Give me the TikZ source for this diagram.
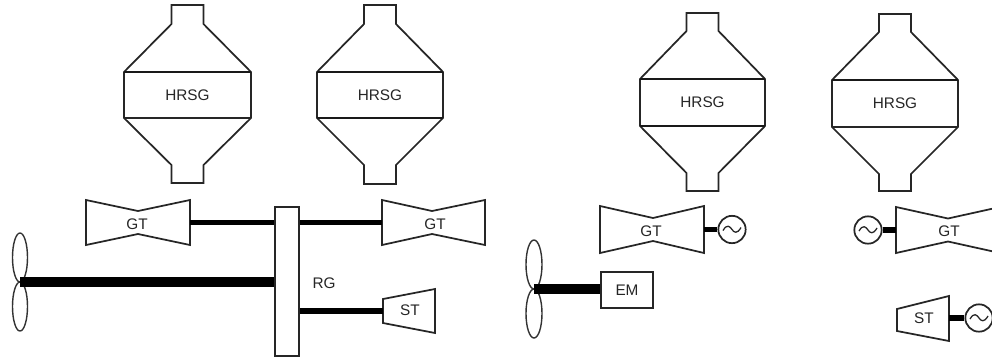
\documentclass[tikz,border=0pt]{standalone}
\usepackage{fontspec}
\setmainfont{Liberation Sans}
\tikzset{
  px/.style={x=0.75pt,y=-0.75pt},
  outline/.style={draw=black!85,line width=1.3pt,line join=miter},
  thick rule/.style={draw=black!90,line width=2pt},
  lbl/.style={inner sep=0pt,font=\fontsize{11.5}{13}\selectfont,text=black!85},
  shaft/.style={draw=black,line width=4pt},
  bigshaft/.style={draw=black,line width=7.8pt},
  blade/.style={draw=black!80,line width=1.05pt},
}
\newcommand{\hrsg}[7]{% name, xl, xr of rect, ytop of neck, y rect top, y rect bottom, y neck bottom
  \pgfmathsetmacro{\xm}{(#2+#3)/2}
  \pgfmathsetmacro{\nl}{\xm-16}
  \pgfmathsetmacro{\nr}{\xm+16}
  \pgfmathsetmacro{\ya}{#5-48}
  \pgfmathsetmacro{\yb}{#6+47}
  \draw[outline] (\nl,#4) -- (\nr,#4) -- (\nr,\ya) -- (#3,#5) -- (#3,#6) -- (\nr,\yb) -- (\nr,#7)
     -- (\nl,#7) -- (\nl,\yb) -- (#2,#6) -- (#2,#5) -- (\nl,\ya) -- cycle;
  \draw[thick rule] (#2,#5) -- (#3,#5);
  \draw[outline] (#2,#6) -- (#3,#6);
  \pgfmathsetmacro{\ym}{(#5+#6)/2}
  \node[lbl] (#1) at (\xm,\ym) {HRSG};
}
\newcommand{\gasturbine}[8]{% name, xl, xm, xr, ytop, ybottom, inset, label dx
  \pgfmathsetmacro{\ymid}{(#5+#6)/2}
  \pgfmathsetmacro{\wt}{#5+#7}
  \pgfmathsetmacro{\wb}{#6-#7}
  \pgfmathsetmacro{\lx}{#3+#8}
  \pgfmathsetmacro{\ly}{\ymid+1.5}
  \draw[outline] (#2,#5) -- (#3,\wt) -- (#4,#5) -- (#4,#6) -- (#3,\wb) -- (#2,#6) -- cycle;
  \coordinate (#1l) at (#2,\ymid);
  \coordinate (#1r) at (#4,\ymid);
  \node[lbl] (#1) at (\lx,\ly) {GT};
}
\newcommand{\generator}[3]{% name, x, y
  \node[outline,circle,minimum size=20.5pt,inner sep=0pt,fill=white] (#1) at (#2,#3) {};
  \draw[outline,line width=0.95pt] (#2-9,#3+1) .. controls (#2-5,#3-6) and (#2-2,#3-3) .. (#2,#3)
     .. controls (#2+2,#3+3) and (#2+5,#3+5) .. (#2+9,#3-2);
}
\newcommand{\propeller}[4]{% name, x, yhub, rx
  \coordinate (#1) at (#2,#3);
  \draw[blade] (#2,#3-24.5) ellipse [x radius=#4,y radius=24.5];
  \draw[blade] (#2,#3+24.5) ellipse [x radius=#4,y radius=24.5];
}
\begin{document}
\begin{tikzpicture}[px]
\useasboundingbox (0,0) rectangle (992,358);
\clip (0,0) rectangle (992,358);
\fill[white] (0,0) rectangle (992,358);

\hrsg{h1}{124}{251}{5}{72}{118}{183}
\hrsg{h2}{317}{443}{5}{72}{118}{184}
\hrsg{h3}{640}{765}{13}{79}{126}{191}
\hrsg{h4}{832}{958}{14}{80}{127}{191}
\draw[thick rule] (317,118) -- (443,118);
\draw[thick rule] (640,126) -- (765,126);

% left plant
\node[outline,minimum width=18pt,minimum height=111.5pt,inner sep=0pt,fill=white] (rg) at (287,281.5) {};
\gasturbine{gta}{86}{138}{190}{200}{245}{11}{-1}
\gasturbine{gtb}{382}{432}{485}{200}{245}{11}{3}
\draw[outline] (383,299) -- (435,289) -- (435,333) -- (383,323) -- cycle;
\coordinate (sta) at (383,311);
\node[lbl] (stal) at (410,310) {ST};
\node[lbl] (rgl) at (324,283) {RG};
\propeller{pa}{20}{282}{7.5}
\draw[shaft] (gtar) -- (gtar -| rg.west);
\draw[shaft] (gtbl) -- (gtbl -| rg.east);
\draw[shaft] (sta) -- (sta -| rg.east);
\draw[bigshaft] (pa) -- (pa -| rg.west);

% right plant
\gasturbine{gtc}{600}{653}{704}{206}{253}{12}{-2}
\gasturbine{gtd}{896}{948}{1000}{207}{253}{11.5}{1}
\generator{ga}{732}{229.5}
\generator{gb}{868}{230}
\draw[shaft] (gtcr) -- (ga.west);
\draw[shaft] (gtdl) -- (gb.east);
\draw[outline] (897,309) -- (949,296) -- (949,341) -- (897,331) -- cycle;
\coordinate (stb) at (949,318);
\node[lbl] (stbl) at (924,318) {ST};
\generator{gc}{979}{318}
\draw[shaft] (stb) -- (gc.west);
\propeller{pb}{534}{289}{8}
\node[outline,minimum width=39pt,minimum height=27.5pt,inner sep=0pt,fill=white,lbl] (em) at (627,290) {EM};
\draw[bigshaft] (pb) -- (pb -| em.west);
\end{tikzpicture}
\end{document}
